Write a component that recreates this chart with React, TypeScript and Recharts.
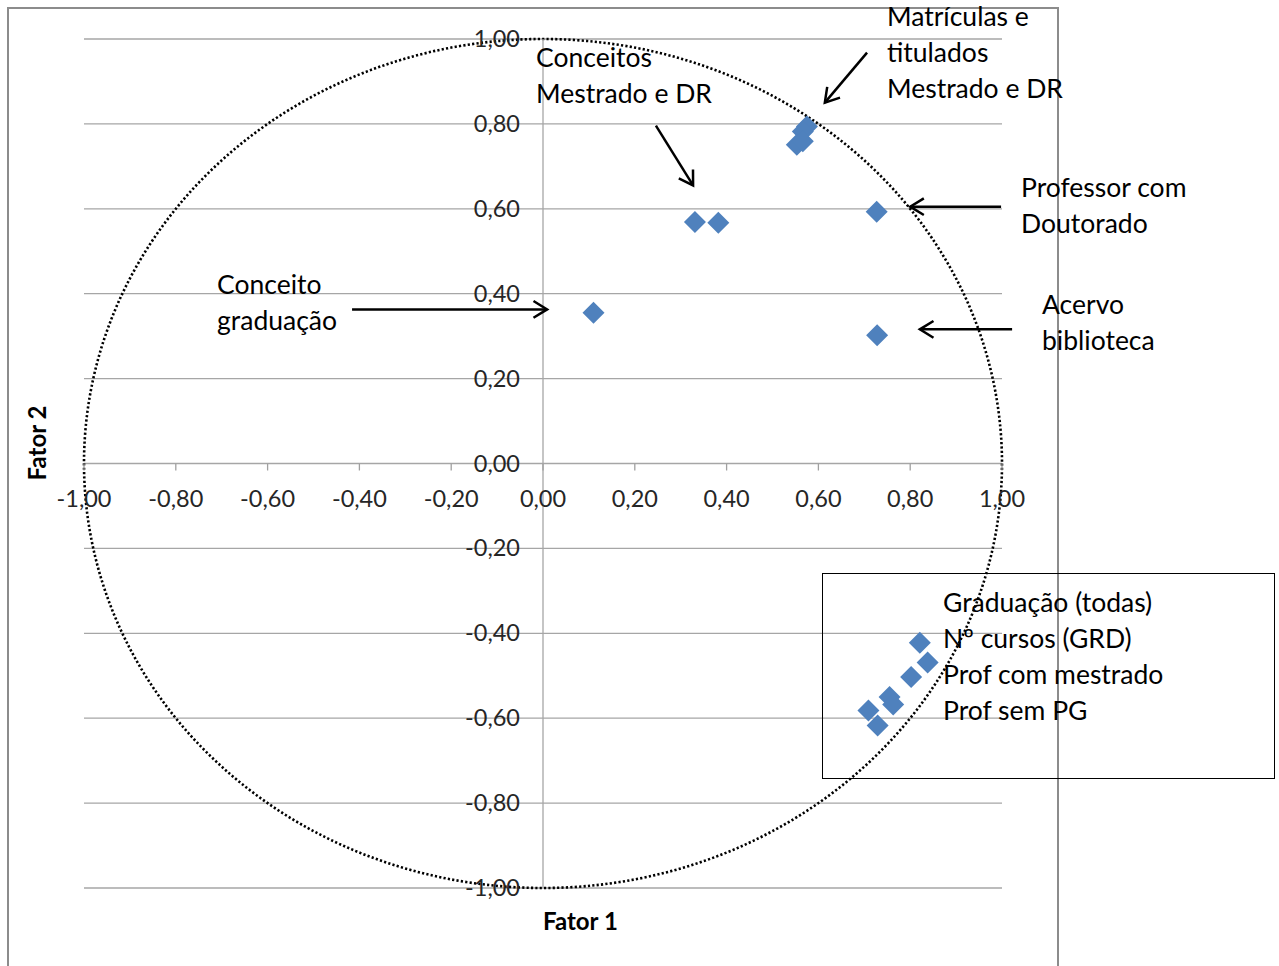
import {
  ReferenceArea,
  ReferenceLine,
  Scatter,
  ScatterChart,
  CartesianGrid,
  XAxis,
  YAxis,
} from "recharts";

const ticks = [-1, -0.8, -0.6, -0.4, -0.2, 0, 0.2, 0.4, 0.6, 0.8, 1];

const fator1 = [
  0.575, 0.566, 0.553, 0.566, 0.727, 0.728, 0.331, 0.382, 0.11,
  0.821, 0.838, 0.802, 0.755, 0.763, 0.709, 0.729,
];
const fator2 = [
  0.794, 0.782, 0.751, 0.759, 0.593, 0.302, 0.569, 0.567, 0.355,
  -0.422, -0.469, -0.503, -0.55, -0.568, -0.582, -0.617,
];

// arrows: start -> end (head at end)
const arrows = [
  { from: { x: -0.416, y: 0.363 }, to: { x: 0.009, y: 0.363 } },
  { from: { x: 0.246, y: 0.796 }, to: { x: 0.327, y: 0.655 } },
  { from: { x: 0.706, y: 0.968 }, to: { x: 0.614, y: 0.85 } },
  { from: { x: 0.998, y: 0.605 }, to: { x: 0.8, y: 0.605 } },
  { from: { x: 1.022, y: 0.316 }, to: { x: 0.821, y: 0.316 } },
];

const notes = [
  { lines: ["Matrículas e", "titulados", "Mestrado e DR"], left: 887, top: -2 },
  { lines: ["Conceitos", "Mestrado e DR"], left: 536, top: 39 },
  { lines: ["Professor com", "Doutorado"], left: 1021, top: 169 },
  { lines: ["Conceito", "graduação"], left: 217, top: 266 },
  { lines: ["Acervo", "biblioteca"], left: 1042, top: 286 },
  {
    lines: ["Graduação (todas)", "Nº cursos (GRD)", "Prof com mestrado", "Prof sem PG"],
    left: 943,
    top: 584,
  },
];

const data = fator1.map((x, i) => ({ x, y: fator2[i] }));

const W = 1279;
const H = 966;
const AX = 30;
const M = { top: 39, right: 277, bottom: 78 - AX, left: 84 - AX };
const PLOT_W = W - 84 - 277;
const PLOT_H = H - 39 - 78;
const ZERO_X = 84 + PLOT_W / 2;
const ZERO_Y = 39 + PLOT_H / 2;
const FONT = "Lato, 'Open Sans', sans-serif";

const fmt = (v: number) => v.toFixed(2).replace(".", ",");

const Diamond = (p: any) => {
  const { cx, cy } = p;
  const r = 11;
  return (
    <polygon
      points={`${cx},${cy - r} ${cx + r},${cy} ${cx},${cy + r} ${cx - r},${cy}`}
      fill="#4f81bd"
    />
  );
};

const renderXTick = (p: any) => (
  <g>
    <line x1={p.x} x2={p.x} y1={ZERO_Y} y2={ZERO_Y + 7} stroke="#a0a0a0" strokeWidth={1.3} />
    <text
      x={p.x}
      y={ZERO_Y + 43}
      textAnchor="middle"
      fontSize={23.5}
      fontFamily={FONT}
      fill="#262626"
    >
      {fmt(p.payload.value)}
    </text>
  </g>
);

const renderYTick = (p: any) => (
  <text
    x={ZERO_X - 23}
    y={p.y + 8}
    textAnchor="end"
    fontSize={23.5}
    fontFamily={FONT}
    fill="#262626"
  >
    {fmt(p.payload.value)}
  </text>
);

const Arrow = (p: any) => {
  const { x1, y1, x2, y2 } = p;
  const a = Math.atan2(y2 - y1, x2 - x1);
  const L = 16;
  const s = 0.55;
  const ax = x2 - L * Math.cos(a - s);
  const ay = y2 - L * Math.sin(a - s);
  const bx = x2 - L * Math.cos(a + s);
  const by = y2 - L * Math.sin(a + s);
  return (
    <g stroke="#000" strokeWidth={2.5} fill="none">
      <line x1={x1} y1={y1} x2={x2} y2={y2} />
      <polyline points={`${ax},${ay} ${x2},${y2} ${bx},${by}`} />
    </g>
  );
};

const Circle = (p: any) => {
  const { x, y, width, height } = p;
  return (
    <ellipse
      cx={x + width / 2}
      cy={y + height / 2}
      rx={width / 2}
      ry={height / 2}
      fill="none"
      stroke="#000"
      strokeWidth={2.6}
      strokeDasharray="2.2 2.2"
    />
  );
};

export default function App() {
  return (
    <div style={{ position: "absolute", left: 0, top: 0, width: W, height: H, background: "#fff", overflow: "hidden" }}>
      <div
        style={{
          position: "absolute",
          left: 7,
          top: 7,
          width: 1052,
          height: 1000,
          border: "2px solid #8c8c8c",
          boxSizing: "border-box",
        }}
      />
      <ScatterChart width={W} height={H} margin={M} style={{ position: "absolute", left: 0, top: 0 }}>
        <CartesianGrid vertical={false} stroke="#a6a6a6" strokeWidth={1.3} />
        <XAxis
          type="number"
          dataKey="x"
          domain={[-1, 1]}
          ticks={ticks}
          height={AX}
          axisLine={false}
          tickLine={false}
          tick={renderXTick}
          interval={0}
        />
        <YAxis
          type="number"
          dataKey="y"
          domain={[-1, 1]}
          ticks={ticks}
          width={AX}
          axisLine={false}
          tickLine={false}
          tick={renderYTick}
          interval={0}
        />
        <ReferenceLine x={0} stroke="#a6a6a6" strokeWidth={1.3} />
        <ReferenceArea x1={-1} x2={1} y1={-1} y2={1} shape={<Circle />} ifOverflow="visible" />
        <Scatter data={data} shape={<Diamond />} isAnimationActive={false} />
        {arrows.map((a, i) => (
          <ReferenceLine
            key={i}
            segment={[a.from, a.to]}
            ifOverflow="visible"
            shape={<Arrow />}
          />
        ))}
      </ScatterChart>
      {notes.map((n, i) => (
        <div
          key={i}
          style={{
            position: "absolute",
            left: n.left,
            top: n.top,
            fontFamily: FONT,
            fontSize: 26.5,
            lineHeight: "36px",
            color: "#000",
            whiteSpace: "nowrap",
            pointerEvents: "none",
          }}
        >
          {n.lines.map((l, j) => (
            <div key={j}>{l}</div>
          ))}
        </div>
      ))}
      <div
        style={{
          position: "absolute",
          left: 822,
          top: 573,
          width: 453,
          height: 206,
          border: "1.5px solid #000",
          boxSizing: "border-box",
        }}
      />
      <div
        style={{
          position: "absolute",
          left: 543,
          top: 906,
          fontFamily: FONT,
          fontWeight: 700,
          fontSize: 24,
        }}
      >
        Fator 1
      </div>
      <div
        style={{
          position: "absolute",
          left: 36,
          top: 443,
          transform: "translate(-50%, -50%) rotate(-90deg)",
          fontFamily: FONT,
          fontWeight: 700,
          fontSize: 24,
          whiteSpace: "nowrap",
        }}
      >
        Fator 2
      </div>
    </div>
  );
}
